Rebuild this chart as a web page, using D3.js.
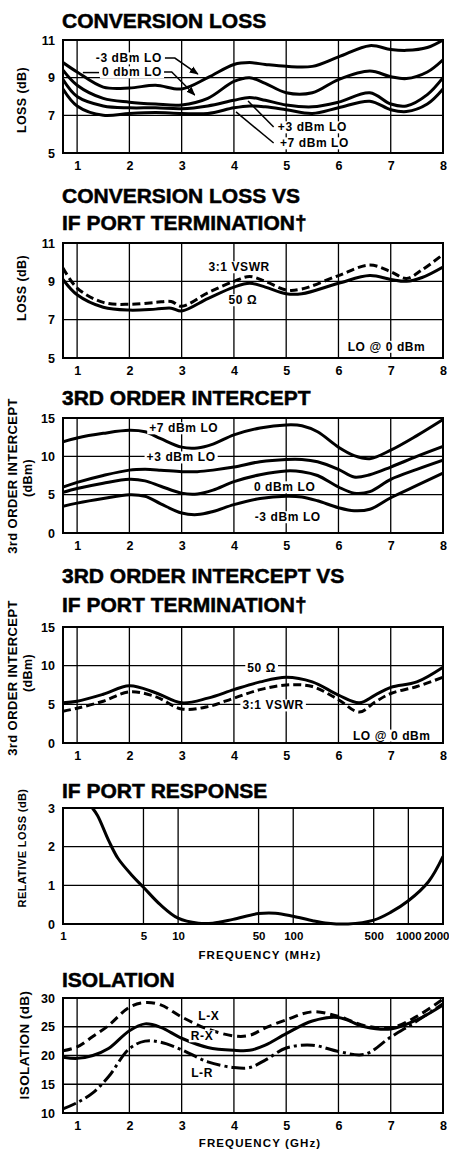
<!DOCTYPE html>
<html lang="en">
<head>
<meta charset="utf-8">
<title>Mixer Curves</title>
<script src="https://d3js.org/d3.v7.min.js"></script>
<style>
  body { margin: 0; background: #fff; }
  svg { display: block; font-family: "Liberation Sans", Arial, Helvetica, sans-serif; font-weight: bold; }
  .title { font-size: 21px; stroke: #000; stroke-width: 0.5px; }
  .grid { stroke: #000; stroke-width: 1.3px; }
  .frame { fill: none; stroke: #000; stroke-width: 2px; }
  .curve { fill: none; stroke: #000; stroke-width: 3px; stroke-linejoin: round; }
  .note { font-size: 12px; letter-spacing: 0.6px; }
  .leader { fill: none; stroke: #000; stroke-width: 1.5px; }
  .ylab { font-size: 12.5px; letter-spacing: 0.4px; }
  .xlab { font-size: 11.5px; letter-spacing: 1.1px; }
</style>
</head>
<body>
<script>
// ---------- data ----------
// conversion loss (dB) vs frequency (GHz)
const clFreq = [0.73, 1, 1.5, 2, 2.5, 3, 3.5, 4, 4.3, 4.6, 5, 5.5, 6, 6.6, 7, 7.3, 7.7, 8];
const clMinus3 = [9.8, 9.3, 8.5, 8.45, 8.6, 8.4, 9.0, 9.7, 9.8, 9.7, 9.6, 9.6, 10.1, 10.7, 10.5, 10.45, 10.6, 11.0];
const clZero   = [9.4, 8.6, 7.9, 7.7, 7.6, 7.55, 7.9, 8.8, 9.0, 8.7, 8.2, 8.2, 8.9, 9.35, 9.05, 8.95, 9.3, 9.95];
const clPlus3  = [8.9, 8.0, 7.5, 7.4, 7.4, 7.35, 7.5, 7.8, 7.95, 7.8, 7.55, 7.45, 7.7, 8.2, 7.6, 7.5, 8.1, 9.0];
const clPlus7  = [8.4, 7.5, 7.0, 7.1, 7.15, 7.1, 7.1, 7.4, 7.5, 7.45, 7.3, 7.1, 7.4, 7.75, 7.3, 7.2, 7.6, 8.4];

// conversion loss vs IF termination, LO @ 0 dBm
const clifFreq = [0.73, 1, 1.5, 2, 2.5, 2.8, 3, 3.5, 4, 4.3, 4.6, 5, 5.3, 6, 6.6, 7, 7.3, 7.6, 8];
const clif50   = [9.1, 8.3, 7.65, 7.5, 7.55, 7.6, 7.45, 8.1, 8.7, 8.9, 8.7, 8.35, 8.35, 8.9, 9.3, 9.1, 9.0, 9.2, 9.75];
const clifVswr = [9.7, 8.65, 7.9, 7.8, 7.9, 7.95, 7.7, 8.4, 9.0, 9.25, 9.0, 8.55, 8.6, 9.3, 9.85, 9.5, 9.15, 9.6, 10.4];

// 3rd order intercept (dBm)
const ipFreq = [0.73, 1, 1.5, 2, 2.3, 2.6, 3, 3.3, 3.6, 4, 4.5, 5, 5.3, 5.6, 6, 6.3, 6.6, 7, 7.5, 8];
const ipPlus7  = [11.9, 12.4, 13.0, 13.4, 13.2, 12.3, 11.2, 11.1, 11.6, 12.8, 13.7, 14.1, 14.0, 13.2, 11.2, 10.1, 9.7, 10.8, 12.7, 14.8];
const ipPlus3  = [6.0, 6.6, 7.5, 8.2, 8.3, 8.2, 8.0, 8.0, 8.2, 8.6, 9.3, 9.6, 9.6, 9.3, 8.3, 7.3, 7.6, 8.6, 10.0, 11.3];
const ipZero   = [5.3, 5.8, 6.5, 7.0, 6.8, 6.1, 5.2, 5.1, 5.6, 6.7, 7.6, 8.1, 8.0, 7.5, 6.0, 5.2, 5.4, 7.0, 8.3, 9.5];
const ipMinus3 = [3.5, 3.9, 4.5, 5.0, 4.8, 3.8, 2.6, 2.4, 2.8, 3.7, 4.5, 4.8, 4.7, 4.2, 3.3, 2.9, 3.1, 4.6, 6.2, 7.8];

// 3rd order intercept vs IF termination, LO @ 0 dBm
const ipifFreq = [0.73, 1, 1.5, 2, 2.5, 3, 3.5, 4, 4.5, 5, 5.5, 6, 6.4, 6.7, 7, 7.5, 8];
const ipif50   = [5.2, 5.4, 6.3, 7.4, 6.5, 5.2, 5.8, 6.9, 7.9, 8.5, 7.9, 6.2, 5.2, 6.2, 7.2, 7.9, 9.8];
const ipifVswr = [4.1, 4.5, 5.4, 6.6, 6.0, 4.4, 4.7, 5.8, 6.9, 7.5, 7.3, 5.6, 4.0, 5.3, 6.4, 7.3, 8.5];

// IF port response (relative loss dB) vs frequency (MHz)
const ifFreq = [1.8, 2, 2.5, 3, 4, 5, 7, 10, 15, 20, 30, 50, 70, 100, 150, 200, 300, 500, 700, 1000, 1500, 2000];
const ifLoss = [3.0, 2.8, 2.15, 1.7, 1.25, 0.95, 0.5, 0.15, 0.02, 0.02, 0.12, 0.27, 0.28, 0.2, 0.08, 0.02, 0.0, 0.1, 0.3, 0.6, 1.1, 1.75];

// isolation (dB)
const isoFreq = [0.73, 1, 1.3, 1.6, 2, 2.3, 2.6, 3, 3.5, 4, 4.3, 4.6, 5, 5.5, 6, 6.5, 7, 7.5, 8];
const isoLX = [20.8, 21.5, 23.3, 25.2, 28.4, 29.2, 28.8, 26.7, 24.6, 23.4, 23.5, 24.8, 26.2, 27.6, 26.8, 25.2, 24.8, 26.8, 29.8];
const isoRX = [19.7, 19.5, 20.0, 21.2, 24.3, 25.5, 24.9, 23.0, 21.4, 20.9, 20.9, 21.8, 23.8, 26.0, 26.6, 25.0, 24.6, 26.2, 28.8];
const isoLR = [10.7, 11.8, 13.5, 16.3, 21.2, 22.5, 22.3, 21.0, 18.9, 17.9, 17.9, 19.2, 21.3, 21.8, 20.7, 20.2, 23.2, 26.0, 29.0];

// tick labels
const ghzTicks = [1, 2, 3, 4, 5, 6, 7, 8];
const mhzTicks = [1, 5, 10, 50, 100, 500, 1000, 2000];

// ---------- layout ----------
const w = 449, h = 1151;
const left = 63, right = 443;

const svg = d3.select("body").append("svg")
  .attr("width", w)
  .attr("height", h);

svg.append("rect").attr("width", w).attr("height", h).attr("fill", "#fff");

svg.append("defs").append("marker")
  .attr("id", "arrow")
  .attr("viewBox", "0 0 10 10")
  .attr("refX", 9).attr("refY", 5)
  .attr("markerWidth", 6).attr("markerHeight", 6)
  .attr("orient", "auto")
  .append("path").attr("d", "M0,1 L10,5 L0,9 Z").attr("fill", "#000");

function panel(p) {
  const g = svg.append("g");
  const x = p.log
    ? d3.scaleLog().domain([1, 2000]).range([left, right])
    : d3.scaleLinear().domain([0.73, 8]).range([left, right]);
  const y = d3.scaleLinear().domain(p.yDomain).range([p.bottom, p.top]);

  // titles
  p.title.forEach((t, i) => {
    g.append("text").attr("class", "title")
      .attr("x", 62).attr("y", p.titleY[i]).text(t);
  });

  // grid
  g.selectAll(".hg").data(p.yGrid).join("line")
    .attr("class", "grid")
    .attr("x1", left).attr("x2", right)
    .attr("y1", d => y(d)).attr("y2", d => y(d));
  g.selectAll(".vg").data(p.xGrid).join("line")
    .attr("class", "grid")
    .attr("y1", p.top).attr("y2", p.bottom)
    .attr("x1", d => x(d)).attr("x2", d => x(d));

  // axes
  const ax = g.append("g")
    .attr("transform", "translate(0," + p.bottom + ")")
    .call(d3.axisBottom(x).tickValues(p.xTicks).tickFormat(d3.format("d")).tickSize(0).tickPadding(8));
  const ay = g.append("g")
    .attr("transform", "translate(" + left + ",0)")
    .call(d3.axisLeft(y).tickValues(p.yTicks).tickFormat(d3.format("d")).tickSize(0).tickPadding(8));
  [ax, ay].forEach(a => {
    a.select(".domain").remove();
    a.attr("font-family", null).attr("font-size", 12.5).attr("font-weight", "bold");
  });
  // log axis: smaller labels, last one pushed against the page edge
  if (p.log) {
    ax.attr("font-size", 11.5);
    ax.selectAll(".tick").filter(d => d === 2000)
      .select("text").attr("text-anchor", "end").attr("x", w - right);
  }

  g.append("rect").attr("class", "frame")
    .attr("x", left).attr("y", p.top)
    .attr("width", right - left).attr("height", p.bottom - p.top);

  // y labels
  p.yLabel.forEach(l => {
    g.append("text").attr("class", "ylab")
      .attr("transform", "translate(" + l.x + "," + l.cy + ") rotate(-90)")
      .attr("text-anchor", "middle")
      .attr("dominant-baseline", "central")
      .style("font-size", l.size + "px")
      .text(l.text);
  });
  if (p.xLabel) {
    g.append("text").attr("class", "xlab")
      .attr("x", 260).attr("y", p.xLabel.y)
      .attr("text-anchor", "middle")
      .text(p.xLabel.text);
  }

  // curves
  const line = d3.line()
    .x(d => x(d[0]))
    .y(d => y(d[1]))
    .curve(d3.curveCatmullRom.alpha(0.5));
  g.append("clipPath").attr("id", "clip" + p.id)
    .append("rect").attr("x", left).attr("y", p.top - 2)
    .attr("width", right - left).attr("height", p.bottom - p.top + 4);
  p.series.forEach(s => {
    g.append("path").attr("class", "curve")
      .attr("clip-path", "url(#clip" + p.id + ")")
      .attr("d", line(d3.zip(s.xs, s.ys)))
      .attr("stroke-dasharray", s.dash || null);
  });

  // leaders + notes
  (p.leaders || []).forEach(l => {
    g.append("path").attr("class", "leader")
      .attr("d", d3.line().x(d => x(d[0])).y(d => y(d[1]))(l.pts))
      .attr("marker-end", l.arrow ? "url(#arrow)" : null);
  });
  (p.notes || []).forEach(n => {
    const bg = g.append("rect").attr("fill", "#fff");
    const t = g.append("text").attr("class", "note")
      .attr("x", x(n.x)).attr("y", y(n.y))
      .attr("dy", "0.36em")
      .attr("text-anchor", n.anchor || "middle")
      .text(n.text);
    const b = t.node().getBBox();
    bg.attr("x", b.x - 2).attr("y", b.y + 1)
      .attr("width", b.width + 4).attr("height", b.height - 2);
  });
}

const panels = [
  {
    id: 1, title: ["CONVERSION LOSS"], titleY: [28],
    top: 40, bottom: 153, yDomain: [5, 11], yTicks: [5, 7, 9, 11], yGrid: [7, 9],
    xTicks: ghzTicks, xGrid: [1, 2, 3, 4, 5, 6, 7],
    yLabel: [{ text: "LOSS (dB)", x: 22, cy: 100, size: 12.5 }],
    series: [
      { xs: clFreq, ys: clMinus3 }, { xs: clFreq, ys: clZero },
      { xs: clFreq, ys: clPlus3 }, { xs: clFreq, ys: clPlus7 }
    ],
    leaders: [
      { pts: [[2.68, 10.04], [2.87, 10.04], [3.31, 9.19]], arrow: true },
      { pts: [[1.11, 9.27], [1.42, 9.27]] },
      { pts: [[2.66, 9.3], [2.81, 9.3], [3.25, 8.08]], arrow: true },
      { pts: [[4.76, 6.38], [4.27, 7.76]] },
      { pts: [[4.76, 5.53], [4.04, 7.18]] }
    ],
    notes: [
      { text: "-3 dBm LO", x: 1.99, y: 10.04 },
      { text: "0 dbm LO", x: 2.05, y: 9.3 },
      { text: "+3 dBm LO", x: 4.84, y: 6.38, anchor: "start" },
      { text: "+7 dBm LO", x: 4.88, y: 5.53, anchor: "start" }
    ]
  },
  {
    id: 2, title: ["CONVERSION LOSS VS", "IF PORT TERMINATION\u2020"], titleY: [203, 230],
    top: 243, bottom: 358, yDomain: [5, 11], yTicks: [5, 7, 9, 11], yGrid: [7, 9],
    xTicks: ghzTicks, xGrid: [1, 2, 3, 4, 5, 6, 7],
    yLabel: [{ text: "LOSS (dB)", x: 22, cy: 288, size: 12.5 }],
    series: [
      { xs: clifFreq, ys: clifVswr, dash: "8,4" },
      { xs: clifFreq, ys: clif50 }
    ],
    notes: [
      { text: "3:1 VSWR", x: 4.1, y: 9.75 },
      { text: "50 \u03a9", x: 4.17, y: 8.03 },
      { text: "LO @ 0 dBm", x: 6.92, y: 5.6 }
    ]
  },
  {
    id: 3, title: ["3RD ORDER INTERCEPT"], titleY: [405],
    top: 418, bottom: 533, yDomain: [0, 15], yTicks: [0, 5, 10, 15], yGrid: [5, 10],
    xTicks: ghzTicks, xGrid: [1, 2, 3, 4, 5, 6, 7],
    yLabel: [
      { text: "3rd ORDER INTERCEPT", x: 12, cy: 476, size: 13 },
      { text: "(dBm)", x: 28, cy: 478, size: 12.5 }
    ],
    series: [
      { xs: ipFreq, ys: ipPlus7 }, { xs: ipFreq, ys: ipPlus3 },
      { xs: ipFreq, ys: ipZero }, { xs: ipFreq, ys: ipMinus3 }
    ],
    notes: [
      { text: "+7 dBm LO", x: 3.04, y: 13.7 },
      { text: "+3 dBm LO", x: 2.99, y: 9.9 },
      { text: "0 dBm LO", x: 4.97, y: 6.0 },
      { text: "-3 dBm LO", x: 5.03, y: 2.1 }
    ]
  },
  {
    id: 4, title: ["3RD ORDER INTERCEPT VS", "IF PORT TERMINATION\u2020"], titleY: [583, 612],
    top: 627, bottom: 743, yDomain: [0, 15], yTicks: [0, 5, 10, 15], yGrid: [5, 10],
    xTicks: ghzTicks, xGrid: [1, 2, 3, 4, 5, 6, 7],
    yLabel: [
      { text: "3rd ORDER INTERCEPT", x: 12, cy: 678, size: 13 },
      { text: "(dBm)", x: 28, cy: 673, size: 12.5 }
    ],
    series: [
      { xs: ipifFreq, ys: ipifVswr, dash: "8,4" },
      { xs: ipifFreq, ys: ipif50 }
    ],
    notes: [
      { text: "50 \u03a9", x: 4.53, y: 9.8 },
      { text: "3:1 VSWR", x: 4.75, y: 4.9 },
      { text: "LO @ 0 dBm", x: 7.02, y: 1.0 }
    ]
  },
  {
    id: 5, log: true, title: ["IF PORT RESPONSE"], titleY: [798],
    top: 808, bottom: 924, yDomain: [0, 3], yTicks: [0, 1, 2, 3], yGrid: [1, 2],
    xTicks: mhzTicks, xGrid: [5, 10, 50, 100, 500, 1000],
    yLabel: [{ text: "RELATIVE LOSS (dB)", x: 22, cy: 848, size: 11 }],
    xLabel: { text: "FREQUENCY (MHz)", y: 959 },
    series: [{ xs: ifFreq, ys: ifLoss }]
  },
  {
    id: 6, title: ["ISOLATION"], titleY: [987],
    top: 998, bottom: 1113, yDomain: [10, 30], yTicks: [10, 15, 20, 25, 30], yGrid: [15, 20, 25],
    xTicks: ghzTicks, xGrid: [1, 2, 3, 4, 5, 6, 7],
    yLabel: [{ text: "ISOLATION (dB)", x: 24, cy: 1045, size: 13.5 }],
    xLabel: { text: "FREQUENCY (GHz)", y: 1147 },
    series: [
      { xs: isoFreq, ys: isoLX, dash: "9,5" },
      { xs: isoFreq, ys: isoRX },
      { xs: isoFreq, ys: isoLR, dash: "14,4,3,4" }
    ],
    notes: [
      { text: "L-X", x: 3.52, y: 27.0 },
      { text: "R-X", x: 3.39, y: 23.4 },
      { text: "L-R", x: 3.39, y: 17.0 }
    ]
  }
];

panels.forEach(panel);
</script>
</body>
</html>
